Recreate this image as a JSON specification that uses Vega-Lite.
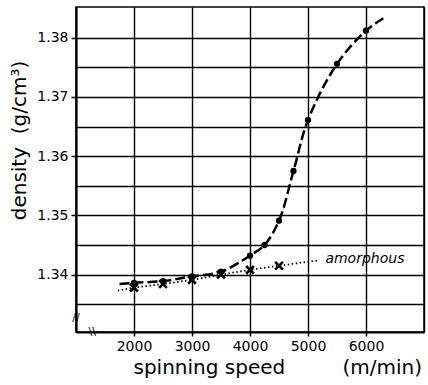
{
  "$schema": "https://vega.github.io/schema/vega-lite/v6.json",
  "width": 348,
  "height": 325,
  "autosize": "none",
  "padding": {"left": 76, "top": 7, "right": 4, "bottom": 53},
  "background": "white",
  "config": {
    "view": {"stroke": "#000", "strokeWidth": 1.5},
    "font": "DejaVu Sans"
  },
  "datasets": {
    "crystal": [
      {"speed": 1750, "density": 1.3384, "dot": false},
      {"speed": 2000, "density": 1.3386, "dot": true},
      {"speed": 2500, "density": 1.3389, "dot": true},
      {"speed": 3000, "density": 1.3397, "dot": true},
      {"speed": 3500, "density": 1.3405, "dot": true},
      {"speed": 4000, "density": 1.3432, "dot": true},
      {"speed": 4250, "density": 1.3450, "dot": true},
      {"speed": 4500, "density": 1.3491, "dot": true},
      {"speed": 4750, "density": 1.3575, "dot": true},
      {"speed": 5000, "density": 1.3661, "dot": true},
      {"speed": 5500, "density": 1.3756, "dot": true},
      {"speed": 6000, "density": 1.3812, "dot": true},
      {"speed": 6300, "density": 1.3833, "dot": false}
    ],
    "amorphous": [
      {"speed": 1720, "density": 1.3373, "mark": false},
      {"speed": 2000, "density": 1.3378, "mark": true},
      {"speed": 2500, "density": 1.3384, "mark": true},
      {"speed": 3000, "density": 1.3391, "mark": true},
      {"speed": 3500, "density": 1.3400, "mark": true},
      {"speed": 4000, "density": 1.3408, "mark": true},
      {"speed": 4500, "density": 1.3415, "mark": true},
      {"speed": 5180, "density": 1.3424, "mark": false}
    ],
    "labels": [
      {"speed": 5300, "density": 1.3426, "text": "amorphous"}
    ],
    "breaks": [
      {"speed": 1000, "density": 1.3327, "text": "//"},
      {"speed": 1280, "density": 1.3303, "text": "\\\\"}
    ]
  },
  "encoding": {
    "x": {
      "field": "speed", "type": "quantitative",
      "scale": {"domain": [1000, 7000], "nice": false, "zero": false},
      "axis": {
        "values": [1000, 2000, 3000, 4000, 5000, 6000, 7000],
        "format": "d",
        "labelExpr": "datum.value >= 2000 && datum.value <= 6000 ? datum.label : ''",
        "title": "spinning speed\u00a0\u00a0\u00a0\u00a0\u00a0\u00a0\u00a0\u00a0\u00a0(m/min)",
        "titleAnchor": "start", "titleAlign": "left", "titleX": 57, "titleY": 41, "titleBaseline": "alphabetic",
        "titleFont": "DejaVu Sans", "titleFontSize": 20, "titleFontWeight": "normal", "titleColor": "#000",
        "labelFont": "DejaVu Sans", "labelFontSize": 14, "labelColor": "#000", "labelPadding": 3,
        "grid": true, "gridColor": "#000", "gridWidth": 1.4, "gridOpacity": 1,
        "domainColor": "#000", "domainWidth": 2,
        "tickColor": "#000", "tickSize": 4, "tickWidth": 1.5,
        "tickOpacity": {"condition": {"test": "datum.value >= 2000 && datum.value <= 6000", "value": 1}, "value": 0}
      }
    },
    "y": {
      "field": "density", "type": "quantitative",
      "scale": {"domain": [1.3303, 1.3852], "nice": false, "zero": false},
      "axis": {
        "values": [1.335, 1.34, 1.345, 1.35, 1.355, 1.36, 1.365, 1.37, 1.375, 1.38],
        "format": ".2f",
        "labelExpr": "abs(datum.value * 100 - round(datum.value * 100)) < 0.01 ? datum.label : ''",
        "title": "density\u00a0\u00a0(g/cm³)",
        "titleAngle": -90, "titleAnchor": "start", "titleAlign": "center", "titleBaseline": "middle",
        "titleX": -57, "titleY": 133,
        "titleFont": "DejaVu Sans", "titleFontSize": 20, "titleFontWeight": "normal", "titleColor": "#000",
        "labelFont": "DejaVu Sans", "labelFontSize": 14, "labelColor": "#000", "labelPadding": 3,
        "grid": true, "gridColor": "#000", "gridWidth": 1.4, "gridOpacity": 1,
        "domainColor": "#000", "domainWidth": 2,
        "tickColor": "#000", "tickSize": 5, "tickWidth": 1.5,
        "tickOpacity": {"condition": {"test": "abs(datum.value * 100 - round(datum.value * 100)) < 0.01", "value": 1}, "value": 0}
      }
    }
  },
  "layer": [
    {
      "data": {"name": "amorphous"},
      "mark": {"type": "line", "color": "#000", "strokeWidth": 1.8, "strokeDash": [1.5, 2.5]},
      "encoding": {}
    },
    {
      "data": {"name": "amorphous"},
      "transform": [{"filter": "datum.mark"}],
      "mark": {"type": "point", "shape": "M-1,-1L1,1M-1,1L1,-1", "filled": false, "color": "#000", "strokeWidth": 2.6, "size": 60, "opacity": 1},
      "encoding": {}
    },
    {
      "data": {"name": "crystal"},
      "mark": {"type": "line", "interpolate": "catmull-rom", "color": "#000", "strokeWidth": 2.5, "strokeDash": [10, 4]},
      "encoding": {}
    },
    {
      "data": {"name": "crystal"},
      "transform": [{"filter": "datum.dot"}],
      "mark": {"type": "circle", "color": "#000", "size": 40, "opacity": 1},
      "encoding": {}
    },
    {
      "data": {"name": "labels"},
      "mark": {"type": "text", "align": "left", "baseline": "middle", "font": "DejaVu Sans", "fontStyle": "italic", "fontSize": 14, "color": "#000"},
      "encoding": {"text": {"field": "text"}}
    },
    {
      "data": {"name": "breaks"},
      "mark": {"type": "text", "align": "center", "baseline": "middle", "font": "DejaVu Sans", "fontSize": 11, "color": "#000"},
      "encoding": {"text": {"field": "text"}}
    }
  ]
}
